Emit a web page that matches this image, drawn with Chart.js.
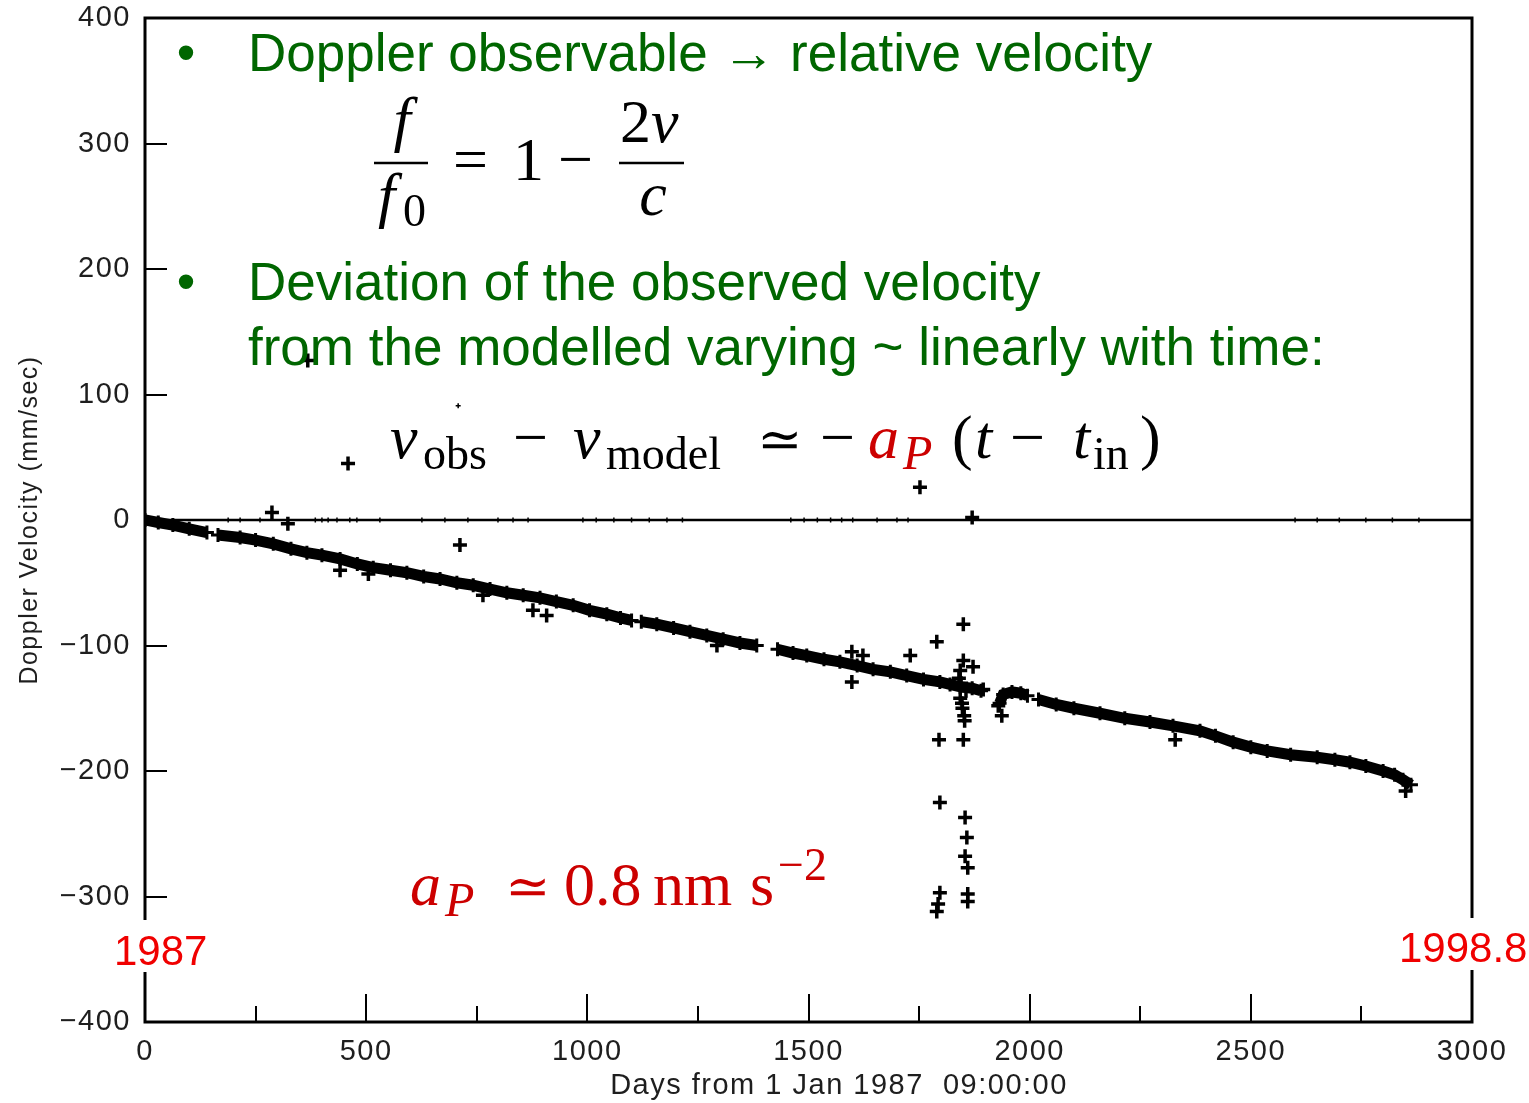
<!DOCTYPE html>
<html><head><meta charset="utf-8">
<script src="https://cdn.jsdelivr.net/npm/chart.js@4.4.1/dist/chart.umd.min.js"></script>
<style>html,body{margin:0;padding:0;background:#fff;overflow:hidden}#wrap{width:1529px;height:1103px;position:relative}</style>
</head><body><div id="wrap"><canvas id="c" width="1529" height="1103"></canvas></div>
<script>
// ---------- DATA ----------
// main Doppler residual track (null = gap in the tracking data)
const bandDays = [0,30,63,100,140,150,165,215,250,290,330,366,400,441,480,516,555,592,630,667,705,742,780,818,855,893,930,968,1005,1044,1075,1100,1110,1122,1157,1195,1232,1270,1307,1345,1383,1405,1430,1465,1496,1535,1571,1610,1646,1685,1722,1760,1797,1820,1843,1870,1890,1905,1932,1940,1960,1980,1995,2005,2020,2060,2100,2159,2215,2272,2324,2385,2420,2460,2500,2537,2590,2650,2690,2724,2760,2799,2825,2844,2862];
const bandVel  = [0,-2,-4,-7,-10,null,-12,-14,-16,-19,-23,-26,-28,-31,-35,-38,-40,-42,-45,-47,-50,-52,-55,-58,-60,-62,-65,-68,-72,-75,-78,-80,null,-81,-83,-86,-89,-92,-95,-98,-100,null,-103,-106,-108,-111,-113,-116,-119,-121,-124,-127,-129,-131,-133,-134,-136,null,-146,-139,-137,-138,-140,null,-143,-147,-150,-154,-158,-161,-164,-168,-172,-177,-181,-184,-187,-189,-191,-193,-196,-200,-203,-207,-211];
// isolated outlier points
const outlierDays = [287,323,368,459,441,505,712,764,877,908,1293,1598,1623,1598,1730,1790,1752,1870,1850,1850,1872,1843,1845,1843,1848,1852,1840,1856,1847,1853,1895,1929,1937,1795,1850,1797,1854,1858,1854,1860,1797,1793,1790,1860,1860,2329,2850];
const outlierVel  = [6,-3,127,45,-40,-43,-20,-60,-72,-76,-100,-105,-108,-129,-108,-97,26,2,-83,-112,-117,-120,-130,-142,-150,-156,-126,-136,-146,-160,-135,-148,-156,-175,-175,-225,-237,-253,-268,-277,-297,-306,-312,-298,-304,-175,-216];
// tiny specks (mostly on the zero line)
const speckDays = [188,215,260,385,400,414,434,463,479,531,626,678,730,798,832,866,708,990,1020,1060,1100,1140,1180,1215,1460,1490,1520,1550,1575,1600,1655,1700,1725,2600,2650,2700,2760,2820,2880];
const speckVel  = [0,0,0,0,0,0,0,0,0,0,0,0,0,0,0,0,91,0,0,0,0,0,0,0,0,0,0,0,0,0,0,0,0,0,0,0,0,0,0];
// axes
const xMin = 0, xMax = 3000, xMajorStep = 500, xMinorStep = 250;
const yMin = -400, yMax = 400, yStep = 100;
const xTitle = 'Days from 1 Jan 1987  09:00:00';
const yTitle = 'Doppler Velocity (mm/sec)';
const yearStart = '1987', yearEnd = '1998.8';

// ---------- build ----------
const pts = (xs, ys) => xs.map((x, i) => ({x: x, y: ys[i]}));
const SANS = '"Liberation Sans", Arial, Helvetica, sans-serif';
const SERIF = '"Liberation Serif", "Times New Roman", "DejaVu Serif", serif';
const GREEN = '#006600', RED = '#cc0000', BRIGHTRED = '#f00000';

const framePlugin = {
  id: 'frame',
  beforeDraw(chart) { chart.ctx.letterSpacing = '1.5px'; },
  beforeDatasetsDraw(chart) {
    const ctx = chart.ctx, a = chart.chartArea, ys = chart.scales.y;
    ctx.letterSpacing = '0px';
    ctx.save();
    const y0 = ys.getPixelForValue(0);
    ctx.strokeStyle = '#000'; ctx.lineWidth = 2.5;
    ctx.beginPath(); ctx.moveTo(a.left, y0); ctx.lineTo(a.right, y0); ctx.stroke();
    ctx.restore();
  },
  afterDatasetsDraw(chart) {
    const ctx = chart.ctx, a = chart.chartArea, xs = chart.scales.x, ys = chart.scales.y;
    ctx.save();
    ctx.strokeStyle = '#000'; ctx.lineWidth = 3;
    ctx.strokeRect(a.left, a.top, a.right - a.left, a.bottom - a.top);
    ctx.lineWidth = 2;
    ys.ticks.forEach(t => {
      if (t.value <= yMin || t.value >= yMax) return;
      const p = Math.round(ys.getPixelForValue(t.value));
      ctx.beginPath(); ctx.moveTo(a.left, p); ctx.lineTo(a.left + 22, p); ctx.stroke();
    });
    for (let v = xMin + xMinorStep; v < xMax; v += xMinorStep) {
      const p = Math.round(xs.getPixelForValue(v));
      const len = (v % xMajorStep === 0) ? 28 : 16;
      ctx.beginPath(); ctx.moveTo(p, a.bottom); ctx.lineTo(p, a.bottom - len); ctx.stroke();
    }
    ctx.restore();
  },
  afterDraw(chart) {
    const ctx = chart.ctx;
    ctx.save();
    ctx.letterSpacing = '0px';
    ctx.textBaseline = 'alphabetic';
    const T = (s, x, y, font, color, align) => {
      ctx.font = font; ctx.fillStyle = color; ctx.textAlign = align || 'left'; ctx.fillText(s, x, y);
    };
    const bar = (x1, x2, y) => { ctx.save(); ctx.strokeStyle = '#000'; ctx.lineWidth = 2.5;
      ctx.beginPath(); ctx.moveTo(x1, y); ctx.lineTo(x2, y); ctx.stroke(); ctx.restore(); };
    const G = '53px ' + SANS;
    // bullets
    T('\u2022', 186, 71, G, GREEN, 'center');
    T('Doppler observable \u2192 relative velocity', 248, 71, G, GREEN);
    T('\u2022', 186, 300, G, GREEN, 'center');
    T('Deviation of the observed velocity', 248, 300, G, GREEN);
    T('from the modelled varying ~ linearly with time:', 248, 365, G, GREEN);
    // f/f0 = 1 - 2v/c
    const MI = 'italic 62px ' + SERIF, MR = '62px ' + SERIF, SR = '46px ' + SERIF, SI = 'italic 48px ' + SERIF;
    const EQ = '54px ' + SERIF;
    T('f', 402, 140, MI, '#000', 'center');
    bar(374, 428, 163);
    T('f', 378, 216, MI, '#000');
    T('0', 403, 226, SR, '#000');
    T('=', 453, 180, MR, '#000');
    T('1', 513, 180, MR, '#000');
    T('\u2212', 558, 180, MR, '#000');
    T('2', 620, 142, MR, '#000');
    T('v', 651, 142, MI, '#000');
    bar(619, 684, 163);
    T('c', 653, 215, MI, '#000', 'center');
    // v_obs - v_model ~ -a_P (t - t_in)
    const B = 458, SB = 469;
    T('v', 390, B, MI, '#000');
    T('obs', 423, SB, SR, '#000');
    T('\u2212', 513, B, MR, '#000');
    T('v', 573, B, MI, '#000');
    T('model', 606, SB, SR, '#000');
    T('\u2243', 757, B, EQ, '#000');
    T('\u2212', 820, B, MR, '#000');
    T('a', 868, B, MI, RED);
    T('P', 903, SB, SI, RED);
    T('(', 952, B, MR, '#000');
    T('t', 975, B, MI, '#000');
    T('\u2212', 1010, B, MR, '#000');
    T('t', 1073, B, MI, '#000');
    T('in', 1093, SB, SR, '#000');
    T(')', 1140, B, MR, '#000');
    // a_P ~ 0.8 nm s^-2
    const RB = 905;
    T('a', 410, RB, MI, RED);
    T('P', 445, RB + 11, SI, RED);
    T('\u2243', 505, RB, EQ, RED);
    T('0.8', 564, RB, MR, RED);
    T('nm', 653, RB, MR, RED);
    T('s', 750, RB, MR, RED);
    T('\u22122', 778, RB - 25, SR, RED);
    // year labels with white background
    ctx.fillStyle = '#fff';
    ctx.fillRect(112, 920, 100, 52);
    ctx.fillRect(1396, 918, 133, 52);
    const Y = '42px ' + SANS;
    T(yearStart, 114, 965, Y, BRIGHTRED);
    T(yearEnd, 1399, 962, Y, BRIGHTRED);
    ctx.restore();
  }
};

new Chart(document.getElementById('c'), {
  type: 'scatter',
  data: {
    datasets: [
      { label: 'track', data: pts(bandDays, bandVel), showLine: true, spanGaps: false,
        borderColor: '#000', backgroundColor: '#000', borderWidth: 11, tension: 0,
        pointStyle: 'cross', pointRadius: 7, pointBorderWidth: 3, pointBorderColor: '#000' },
      { label: 'outliers', data: pts(outlierDays, outlierVel), showLine: false,
        pointStyle: 'cross', pointRadius: 7, pointBorderWidth: 3.5, borderColor: '#000', backgroundColor: '#000' },
      { label: 'specks', data: pts(speckDays, speckVel), showLine: false,
        pointStyle: 'cross', pointRadius: 2.5, pointBorderWidth: 1.5, borderColor: '#000', backgroundColor: '#000' }
    ]
  },
  options: {
    responsive: false, animation: false, devicePixelRatio: 1,
    layout: { padding: { top: 18, right: 57, left: 0, bottom: 0 } },
    plugins: { legend: { display: false }, tooltip: { enabled: false } },
    scales: {
      x: {
        type: 'linear', min: xMin, max: xMax,
        afterFit(s) { s.height = 81; s.paddingLeft = 0; s.paddingRight = 0; },
        grid: { display: false, drawTicks: false }, border: { display: false },
        ticks: { stepSize: xMajorStep, autoSkip: false, maxRotation: 0, padding: 13,
                 color: '#1e1e1e', font: { family: SANS, size: 29 },
                 callback: v => String(v) },
        title: { display: true, text: '\u2003\u2003' + xTitle, color: '#1e1e1e',
                 font: { family: SANS, size: 29 }, padding: { top: 0, bottom: 0 } }
      },
      y: {
        type: 'linear', min: yMin, max: yMax,
        afterFit(s) { s.width = 145; s.paddingTop = 0; s.paddingBottom = 0; },
        grid: { display: false, drawTicks: false }, border: { display: false },
        ticks: { stepSize: yStep, autoSkip: false, padding: 14, color: '#1e1e1e',
                 font: { family: SANS, size: 29 },
                 callback: v => v < 0 ? '\u2212' + Math.abs(v) : String(v) },
        title: { display: true, text: yTitle, color: '#1e1e1e',
                 font: { family: SANS, size: 25 }, padding: { top: 15, bottom: 0 } }
      }
    }
  },
  plugins: [framePlugin]
});
</script></body></html>
